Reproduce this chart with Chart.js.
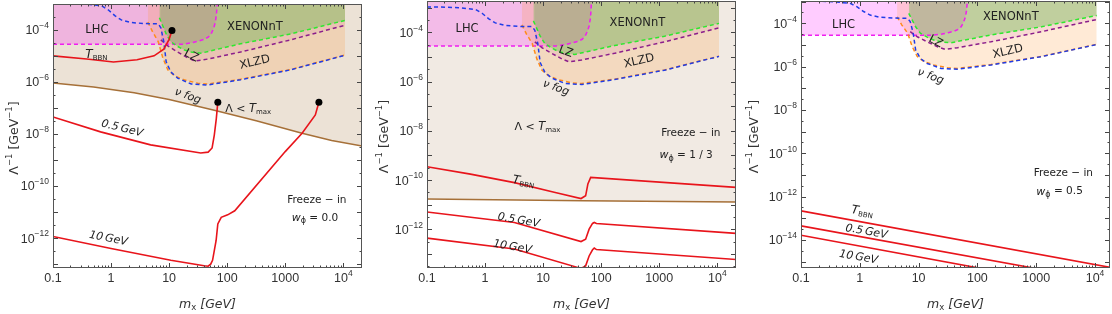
<!DOCTYPE html>
<html>
<head>
<meta charset="utf-8">
<script src="https://cdn.jsdelivr.net/npm/chart.js@4.4.0/dist/chart.umd.min.js"></script>
<style>
  html, body { margin: 0; padding: 0; background: #fff; }
  #wrap { position: relative; width: 1112px; height: 314px; }
  .panel { position: absolute; top: 0; height: 314px; }
</style>
</head>
<body>
<div id="wrap">
  <div class="panel" style="left:0"><canvas id="c1" width="370" height="314"></canvas></div>
  <div class="panel" style="left:370px"><canvas id="c2" width="370" height="314"></canvas></div>
  <div class="panel" style="left:740px"><canvas id="c3" width="372" height="314"></canvas></div>
</div>
<script>
// ---- axes ----
const xMin = 0.1;
const xMax = [2.1e4, 2.1e4, 1.8e4];
const yRange1 = [7.1e-14, 9.8e-4];
const yRange2 = [2.7e-14, 1.86e-3];
const yRange3 = [5.1e-16, 1.07e-3];
const xTicks = [0.1, 1, 10, 100, 1000, 1e4];
const xTickLabels = ['0.1', '1', '10', '100', '1000', '10^4'];
const yTicks12 = [1e-4, 1e-6, 1e-8, 1e-10, 1e-12];
const yTickLabels12 = ['10^−4', '10^−6', '10^−8', '10^−10', '10^−12'];
const yTicks3 = [1e-4, 1e-6, 1e-8, 1e-10, 1e-12, 1e-14];
const yTickLabels3 = ['10^−4', '10^−6', '10^−8', '10^−10', '10^−12', '10^−14'];

// ---- experimental bounds (same in all panels) ----
const lhcM = [0.1, 17, 25, 32, 40, 47, 53, 58, 62, 65, 67, 68];
const lhcY = [2.8e-5, 2.8e-5, 3.2e-5, 3.7e-5, 4.3e-5, 5.2e-5, 7e-5, 1.1e-4, 1.8e-4, 3.5e-4, 8e-4, 3e-3];

const fogM = [0.1, 0.14, 0.35, 0.69, 0.89, 1.16, 1.5, 2.2, 3.8, 6.5, 7.2, 8.1, 8.9, 10.7, 14, 24, 46, 170, 1230, 1.07e4];
const fogY = [1.07e-3, 1.07e-3, 1e-3, 8.3e-4, 5.9e-4, 3.5e-4, 2.4e-4, 1.9e-4, 1.74e-4, 1.7e-4, 1.2e-4, 3.5e-5, 5.9e-6, 2.4e-6, 1.4e-6, 8.3e-7, 7.6e-7, 1.2e-6, 2.9e-6, 1.05e-5];

const xlzdM = [4.3, 5.2, 6.5, 7.8, 9.5, 12.4, 18, 31, 46, 170, 1230, 1.07e4];
const xlzdY = [2.0e-4, 8.3e-5, 3.5e-5, 8.3e-6, 2.9e-6, 1.7e-6, 1.2e-6, 8.9e-7, 8.3e-7, 1.25e-6, 2.95e-6, 1.07e-5];

const xenonM = [6.8, 7.8, 8.9, 10.7, 14, 18, 24, 35, 170, 1230, 1.07e4];
const xenonY = [2.9e-4, 1.4e-4, 6.9e-5, 3.5e-5, 2.3e-5, 1.7e-5, 1.4e-5, 1.26e-5, 2.9e-5, 6.9e-5, 2.3e-4];

const lzM = [7.2, 9.5, 14, 21, 28, 46, 170, 1230, 1.07e4];
const lzY = [4.1e-5, 2.4e-5, 1.4e-5, 8.3e-6, 6.3e-6, 7.5e-6, 1.4e-5, 4.1e-5, 1.5e-4];

// ---- panel 1 : w = 0.0 ----
const tmax1M = [0.1, 0.5, 2.5, 10, 60, 316, 1950, 6300, 2.3e4];
const tmax1Y = [9.1e-7, 6.3e-7, 3.8e-7, 2.1e-7, 8.1e-8, 3.2e-8, 1.07e-8, 5.6e-9, 3.3e-9];
const bbn1M = [0.1, 0.38, 1.1, 2.8, 5.5, 8.1, 10, 11.2];
const bbn1Y = [1e-5, 7.6e-6, 5.8e-6, 7.1e-6, 1e-5, 1.8e-5, 4.3e-5, 9.5e-5];
const half1M = [0.1, 0.66, 4.8, 35, 47, 55, 60, 65, 69];
const half1Y = [4.5e-8, 1.2e-8, 3.8e-9, 1.86e-9, 2e-9, 2.9e-9, 9.1e-9, 3.9e-8, 1.66e-7];
const ten1M = [0.1, 1, 10.7, 40, 47, 52, 56, 64.5, 69, 79, 102, 135, 1000, 1950, 3300, 3800];
const ten1Y = [1.15e-12, 4e-13, 1.4e-13, 8.7e-14, 8.3e-14, 1e-13, 1.4e-13, 8.1e-13, 3.5e-12, 6.3e-12, 7.8e-12, 1.12e-11, 2.1e-9, 1.07e-8, 5.4e-8, 1.66e-7];
const dotsM = [11.2, 69, 3800];
const dotsY = [9.5e-5, 1.66e-7, 1.66e-7];

// ---- panel 2 : w = 1/3 ----
const tmax2M = [0.1, 50, 2.3e4];
const tmax2Y = [1.7e-11, 1.45e-11, 1.3e-11];
const bbn2M = [0.1, 0.56, 3.2, 15.5, 45, 54, 59, 66, 2.2e4];
const bbn2Y = [3.5e-10, 1.74e-10, 7.9e-11, 3.2e-11, 1.78e-11, 2.3e-11, 6.9e-11, 1.29e-10, 5e-11];
const half2M = [0.1, 3.2, 45, 54, 62, 71, 76, 83, 2.2e4];
const half2Y = [5.1e-12, 1.9e-12, 3.2e-13, 4e-13, 1.02e-12, 1.74e-12, 1.9e-12, 1.74e-12, 6.8e-13];
const ten2M = [0.1, 3.2, 45, 54, 62, 71, 76, 83, 2.2e4];
const ten2Y = [4.4e-13, 1.6e-13, 2.6e-14, 3.3e-14, 8.3e-14, 1.48e-13, 1.74e-13, 1.51e-13, 5.9e-14];

// ---- panel 3 : w = 0.5 ----
const bbn3M = [0.1, 2e4];
const bbn3Y = [2.2e-13, 5.2e-16];
const half3M = [0.1, 2e4];
const half3Y = [4.5e-14, 1.1e-16];
const ten3M = [0.1, 2e4];
const ten3Y = [1.66e-14, 3.7e-17];

// ---- helpers ----
const pts = (m, v) => m.map((x, i) => ({ x: x, y: v[i] }));
const RED = '#e8141b';

function fillSet(m, v, color, order) {
    return { data: pts(m, v), borderWidth: 0, borderColor: 'transparent', backgroundColor: color,
             fill: 'end', order: order, pointRadius: 0 };
}
function lineSet(m, v, color, order, dash, width) {
    return { data: pts(m, v), borderColor: color, borderWidth: width || 1.5, borderDash: dash || [],
             fill: false, order: order, pointRadius: 0 };
}
function boundSets() {
    return [
        fillSet(lhcM, lhcY, 'rgba(255,0,255,0.2)', 20),
        fillSet(xlzdM, xlzdY, 'rgba(255,150,50,0.2)', 19),
        fillSet(lzM, lzY, 'rgba(150,0,150,0.07)', 18),
        fillSet(xenonM, xenonY, 'rgba(90,190,60,0.35)', 17),
        lineSet(lhcM, lhcY, '#f01ef0', 12, [4, 3]),
        lineSet(xlzdM, xlzdY, '#ff8c1a', 11, [4, 3]),
        lineSet(lzM, lzY, '#8b1e8b', 10, [4, 3]),
        lineSet(xenonM, xenonY, '#2ee82e', 9, [4, 3]),
        lineSet(fogM, fogY, '#1f3ce8', 8, [4, 3])
    ];
}

const T = (t, s, it) => ({ t: t, s: s || 11, it: !!it });
const SUB = (t, s) => ({ t: t, s: s || 7.5, dy: 3 });
const SUP = (t, s) => ({ t: t, s: s || 8, dy: -5 });
const TICKFONT = '"Liberation Sans", Arial, sans-serif';
const TXTFONT = '"DejaVu Sans", sans-serif';

function drawRich(ctx, parts, x, y, align, rot, color) {
    ctx.save();
    ctx.translate(x, y);
    if (rot) ctx.rotate(rot * Math.PI / 180);
    ctx.fillStyle = color || '#222';
    ctx.textBaseline = 'middle';
    ctx.textAlign = 'left';
    let w = 0;
    parts.forEach(p => {
        ctx.font = (p.it ? 'italic ' : '') + p.s + 'px ' + (p.fam || TXTFONT);
        p.w = ctx.measureText(p.t).width;
        w += p.w;
    });
    let cx = align === 'right' ? -w : align === 'left' ? 0 : -w / 2;
    parts.forEach(p => {
        ctx.font = (p.it ? 'italic ' : '') + p.s + 'px ' + (p.fam || TXTFONT);
        ctx.fillText(p.t, cx, p.dy || 0);
        cx += p.w;
    });
    ctx.restore();
}
function tickParts(label) {
    const [base, exp] = label.split('^');
    const parts = [{ t: base, s: 12.5, fam: TICKFONT }];
    if (exp) parts.push({ t: exp, s: 8.5, dy: -5, fam: TICKFONT });
    return parts;
}

const decoPlugin = {
    id: 'deco',
    afterDraw(chart, args, o) {
        const ctx = chart.ctx, a = chart.chartArea, x = chart.scales.x, y = chart.scales.y;
        ctx.save();
        ctx.strokeStyle = '#444';
        ctx.lineWidth = 1;
        const seg = (x1, y1, x2, y2) => { ctx.beginPath(); ctx.moveTo(x1, y1); ctx.lineTo(x2, y2); ctx.stroke(); };
        // inward ticks
        for (let e = -1; e <= 4; e++) {
            for (let k = 1; k <= 9; k++) {
                const v = k * Math.pow(10, e);
                if (v < x.min || v > x.max) continue;
                const px = Math.round(x.getPixelForValue(v)) + 0.5;
                const len = k === 1 ? 5 : 2.5;
                seg(px, a.bottom, px, a.bottom - len);
                seg(px, a.top, px, a.top + len);
            }
        }
        for (let e = -16; e <= -2; e++) {
            [1, 3.16].forEach(k => {
                const v = k * Math.pow(10, e);
                if (v < y.min || v > y.max) return;
                const py = Math.round(y.getPixelForValue(v)) + 0.5;
                const len = k === 1 ? 5 : 2.5;
                seg(a.left, py, a.left + len, py);
                seg(a.right, py, a.right - len, py);
            });
        }
        ctx.strokeStyle = '#555';
        ctx.strokeRect(a.left + 0.5, a.top + 0.5, a.right - a.left - 1, a.bottom - a.top - 1);

        // tick labels
        xTicks.forEach((v, i) => {
            drawRich(ctx, tickParts(xTickLabels[i]), x.getPixelForValue(v), a.bottom + 11, 'center', 0, '#333');
        });
        o.yTicks.forEach((v, i) => {
            drawRich(ctx, tickParts(o.yLabels[i]), a.left - 4, y.getPixelForValue(v) + 1, 'right', 0, '#333');
        });

        // axis titles
        drawRich(ctx, [T('Λ', 12.5), SUP('−1', 8.5), T(' [GeV', 12.5), SUP('−1', 8.5), T(']', 12.5)],
                 15, (a.top + a.bottom) / 2 + 2, 'center', -90, '#333');
        drawRich(ctx, [T('m', 12.5, true), SUB('x', 8.5), T(' [GeV]', 12.5, true)],
                 (a.left + a.right) / 2, 305, 'center', 0, '#333');

        // annotations
        o.labels.forEach(l => {
            drawRich(ctx, l.p, x.getPixelForValue(l.m), y.getPixelForValue(l.v), 'center', l.rot || 0, '#222');
        });
        ctx.restore();
    }
};

function makePanel(id, datasets, yRange, xmax, pad, deco) {
    new Chart(document.getElementById(id), {
        type: 'line',
        data: { datasets: datasets },
        options: {
            responsive: false,
            animation: false,
            layout: { padding: pad },
            plugins: { legend: { display: false }, tooltip: { enabled: false }, deco: deco },
            elements: { line: { tension: 0 }, point: { radius: 0 } },
            scales: {
                x: { type: 'logarithmic', min: xMin, max: xmax, display: false },
                y: { type: 'logarithmic', min: yRange[0], max: yRange[1], display: false }
            }
        },
        plugins: [decoPlugin]
    });
}

const labels1 = [
    { p: [T('LHC', 11.5)], m: 0.57, v: 1e-4 },
    { p: [T('XENONnT', 11.5)], m: 300, v: 1.3e-4 },
    { p: [T('LZ', 11.5)], m: 24, v: 1e-5, rot: 28 },
    { p: [T('XLZD', 11.5)], m: 300, v: 5.6e-6, rot: -13 },
    { p: [T('ν fog', 11, true)], m: 21, v: 2.8e-7, rot: 20 },
    { p: [T('T', 12, true), SUB('BBN', 7)], m: 0.56, v: 1.1e-5 },
    { p: [T('0.5\u2009GeV', 11, true)], m: 1.55, v: 1.6e-8, rot: 14 },
    { p: [T('Λ < '), T('T', 11.5, true), SUB('max', 7)], m: 230, v: 9e-8 },
    { p: [T('10\u2009GeV', 11, true)], m: 0.9, v: 9.5e-13, rot: 11 },
    { p: [T('Freeze − in', 10.5)], m: 3500, v: 2.9e-11 },
    { p: [T('w', 11, true), SUB('ϕ', 8), T(' = 0.0', 10.5)], m: 3250, v: 6e-12 }
];
const labels2 = [
    { p: [T('LHC', 11.5)], m: 0.49, v: 1.3e-4 },
    { p: [T('XENONnT', 11.5)], m: 420, v: 2.3e-4 },
    { p: [T('LZ', 11.5)], m: 24.5, v: 1.6e-5, rot: 20 },
    { p: [T('XLZD', 11.5)], m: 450, v: 6.8e-6, rot: -13 },
    { p: [T('ν fog', 11, true)], m: 16.6, v: 5.5e-7, rot: 20 },
    { p: [T('Λ < '), T('T', 11.5, true), SUB('max', 7)], m: 8, v: 1.45e-8 },
    { p: [T('Freeze − in', 10.5)], m: 3500, v: 7.9e-9 },
    { p: [T('w', 11, true), SUB('ϕ', 8), T(' = 1 / 3', 10.5)], m: 2900, v: 1e-9 },
    { p: [T('T', 12, true), SUB('BBN', 7)], m: 4.6, v: 8.5e-11, rot: 10 },
    { p: [T('0.5\u2009GeV', 11, true)], m: 3.8, v: 2.3e-12, rot: 10 },
    { p: [T('10\u2009GeV', 11, true)], m: 2.95, v: 1.9e-13, rot: 10 }
];
const labels3 = [
    { p: [T('LHC', 11.5)], m: 0.53, v: 8.3e-5 },
    { p: [T('XENONnT', 11.5)], m: 370, v: 2e-4 },
    { p: [T('LZ', 11.5)], m: 19.5, v: 1.4e-5, rot: 28 },
    { p: [T('XLZD', 11.5)], m: 330, v: 4.9e-6, rot: -13 },
    { p: [T('ν fog', 11, true)], m: 16, v: 3.5e-7, rot: 20 },
    { p: [T('Freeze − in', 10.5)], m: 2900, v: 1.2e-11 },
    { p: [T('w', 11, true), SUB('ϕ', 8), T(' = 0.5', 10.5)], m: 2500, v: 1.7e-12 },
    { p: [T('T', 12, true), SUB('BBN', 7)], m: 1.1, v: 2e-13, rot: 10 },
    { p: [T('0.5\u2009GeV', 11, true)], m: 1.3, v: 2.4e-14, rot: 10 },
    { p: [T('10\u2009GeV', 11, true)], m: 0.95, v: 1.6e-15, rot: 10 }
];

const sets1 = [
    fillSet(tmax1M, tmax1Y, '#ece2d6', 30),
    ...boundSets(),
    lineSet(tmax1M, tmax1Y, '#a67038', 6),
    lineSet(bbn1M, bbn1Y, RED, 3, [], 1.6),
    lineSet(half1M, half1Y, RED, 3, [], 1.6),
    lineSet(ten1M, ten1Y, RED, 3, [], 1.6),
    { data: pts(dotsM, dotsY), showLine: false, pointRadius: 3.5, backgroundColor: '#000',
      borderColor: '#000', pointBorderWidth: 0, order: 1 }
];
const sets2 = [
    fillSet(tmax2M, tmax2Y, '#f1eae3', 30),
    ...boundSets(),
    lineSet(tmax2M, tmax2Y, '#a67038', 6),
    lineSet(bbn2M, bbn2Y, RED, 3, [], 1.6),
    lineSet(half2M, half2Y, RED, 3, [], 1.6),
    lineSet(ten2M, ten2Y, RED, 3, [], 1.6)
];
const sets3 = [
    ...boundSets(),
    lineSet(bbn3M, bbn3Y, RED, 3, [], 1.6),
    lineSet(half3M, half3Y, RED, 3, [], 1.6),
    lineSet(ten3M, ten3Y, RED, 3, [], 1.6)
];

makePanel('c1', sets1, yRange1, xMax[0], { left: 53, right: 8, top: 1, bottom: 46 },
          { yTicks: yTicks12, yLabels: yTickLabels12, labels: labels1 });
makePanel('c2', sets2, yRange2, xMax[1], { left: 57, right: 4, top: 1, bottom: 46 },
          { yTicks: yTicks12, yLabels: yTickLabels12, labels: labels2 });
makePanel('c3', sets3, yRange3, xMax[2], { left: 61, right: 2, top: 1, bottom: 46 },
          { yTicks: yTicks3, yLabels: yTickLabels3, labels: labels3 });
</script>
</body>
</html>
